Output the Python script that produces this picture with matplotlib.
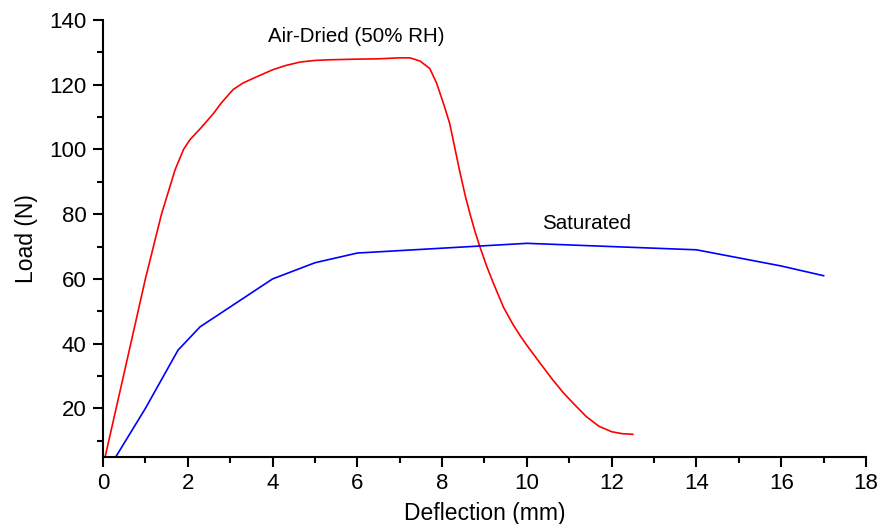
import matplotlib.pyplot as plt
from matplotlib.ticker import MultipleLocator

plt.rcParams['font.family'] = ['Liberation Sans', 'DejaVu Sans']

# air-dried (50% RH) curve
air_x = [0.05, 0.5, 1.0, 1.38, 1.7, 1.9, 2.05, 2.3, 2.6, 2.8, 3.07, 3.3, 3.6,
         4.0, 4.3, 4.65, 5.0, 5.35, 6.0, 6.5, 7.0, 7.24, 7.48, 7.71, 7.87, 8.05,
         8.18, 8.3, 8.42, 8.55, 8.66, 8.78, 8.89, 9.05, 9.2, 9.45, 9.67, 9.85,
         10.0, 10.3, 10.6, 10.85, 11.1, 11.4, 11.7, 12.0, 12.25, 12.5]
air_y = [5, 31, 60, 80, 93.7, 100, 103, 106.5, 111, 114.5, 118.5, 120.5, 122.3,
         124.6, 125.9, 127, 127.5, 127.7, 127.9, 128.0, 128.3, 128.3, 127.3,
         125.0, 120.5, 113.5, 108, 100.5, 93, 85.5, 80, 74.5, 70, 64, 59, 51.2,
         46, 42.3, 39.5, 34.2, 29, 25, 21.5, 17.5, 14.5, 12.8, 12.2, 12]

# saturated curve
sat_x = [0.3, 1, 1.77, 2.29, 4, 5, 6, 10, 14, 16, 17]
sat_y = [5, 20, 38, 45.2, 60, 65, 68, 71, 69, 64, 61]

fig = plt.figure(figsize=(8.78, 5.24), dpi=100)
ax = fig.add_axes([0.1173, 0.1279, 0.869, 0.834])

ax.plot(air_x, air_y, color="red", lw=1.2)
ax.plot(sat_x, sat_y, color="blue", lw=1.2)

ax.text(5.97, 134.8, "Air-Dried (50% RH)", ha="center", va="center", fontsize=14.8)
ax.text(11.4, 77, "Saturated", ha="center", va="center", fontsize=14.8)

ax.set_xlim(0, 18)
ax.set_ylim(5, 140)
ax.xaxis.set_major_locator(MultipleLocator(2))
ax.xaxis.set_minor_locator(MultipleLocator(1))
ax.yaxis.set_major_locator(MultipleLocator(20))
ax.yaxis.set_minor_locator(MultipleLocator(10))

for s in ["top", "right"]:
    ax.spines[s].set_visible(False)
for s in ["left", "bottom"]:
    ax.spines[s].set_linewidth(1.5)

ax.tick_params(which="major", direction="out", length=7, width=1.5, labelsize=16)
ax.tick_params(axis="x", which="major", pad=4.5)
ax.tick_params(axis="y", which="major", pad=5)
ax.tick_params(which="minor", direction="out", length=4, width=1.5)

ax.set_xlabel("Deflection (mm)", fontsize=16.5, labelpad=6)
ax.set_ylabel("Load (N)", fontsize=16.5, labelpad=8)

fig.savefig("out.png", dpi=100)
